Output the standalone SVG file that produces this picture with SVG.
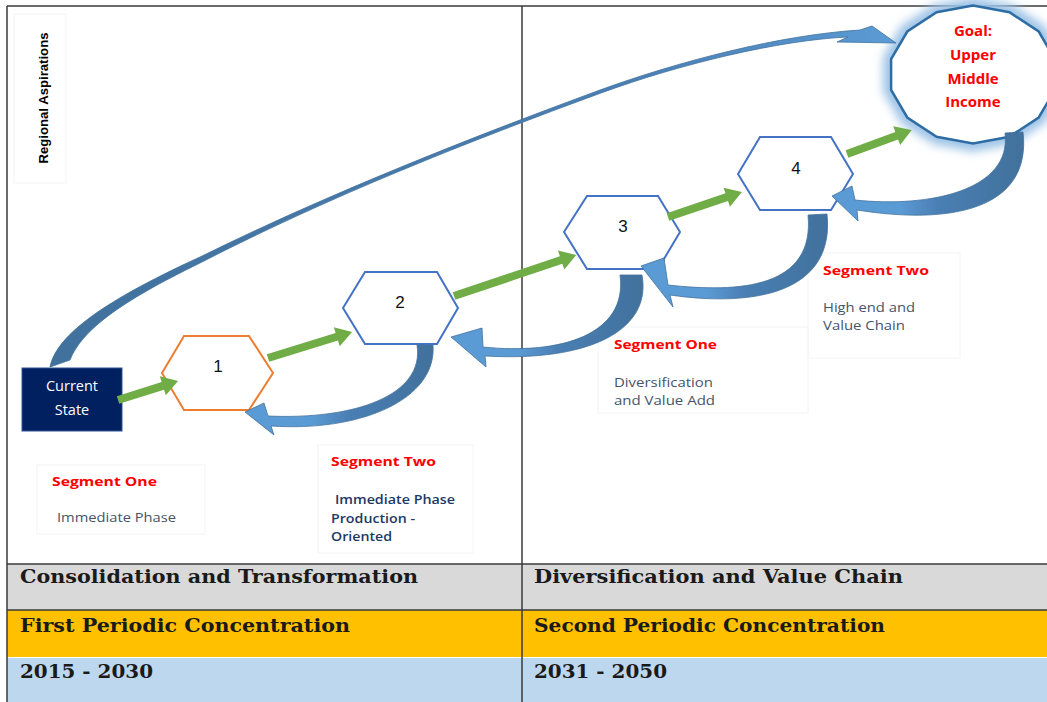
<svg xmlns="http://www.w3.org/2000/svg" width="1047" height="702" viewBox="0 0 1047 702">
<defs>
<style>
.frame{fill:none;stroke:#3a3a3a;stroke-width:1.5}
.hex{fill:#fff;stroke:#4472c4;stroke-width:2}
.num{font-family:"Liberation Sans",Arial,sans-serif;font-size:17px;fill:#111;text-anchor:middle}
.seg{font-family:"Open Sans","Liberation Sans",sans-serif;font-weight:bold;font-size:13px;fill:#ff0000}
.desc{font-family:"Open Sans","Liberation Sans",sans-serif;font-size:12px;fill:#44546a}
.desc2{font-family:"Open Sans","Liberation Sans",sans-serif;font-size:12px;font-weight:600;fill:#203864}
.goal{font-family:"Open Sans","Liberation Sans",sans-serif;font-weight:bold;font-size:15px;fill:#ff0000;text-anchor:middle}
.tbl{font-family:"DejaVu Serif","Liberation Serif",serif;font-weight:bold;font-size:18px;fill:#1a1a1a}
.green{fill:#70ad47}
.curve{fill:url(#cg);stroke:#41719c;stroke-width:0.8}
.fbox{fill:none;stroke:#f4f4f4;stroke-width:1}
</style>
<linearGradient id="cg" x1="1" y1="0" x2="0" y2="0">
<stop offset="0" stop-color="#41719c"/>
<stop offset="0.45" stop-color="#4a7fb4"/>
<stop offset="0.65" stop-color="#5b9bd5"/>
<stop offset="1" stop-color="#5b9bd5"/>
</linearGradient>
<linearGradient id="ag" x1="0" y1="0" x2="1" y2="0">
<stop offset="0" stop-color="#41719c"/>
<stop offset="0.7" stop-color="#4a80b6"/>
<stop offset="1" stop-color="#5b9bd5"/>
</linearGradient>
<filter id="glow" x="-30%" y="-30%" width="160%" height="160%">
<feGaussianBlur stdDeviation="5"/>
</filter>
</defs>

<rect x="0" y="0" width="1047" height="702" fill="#fff"/>

<g id="table">
<rect x="7" y="564" width="1040" height="46" fill="#d9d9d9"/>
<rect x="7" y="610" width="1040" height="47" fill="#ffc000"/>
<rect x="7" y="658" width="1040" height="44" fill="#bdd7ee"/>
<line x1="7" y1="564" x2="1047" y2="564" class="frame"/>
<line x1="7" y1="610" x2="1047" y2="610" class="frame"/>
<text class="tbl" x="20" y="583" textLength="398" lengthAdjust="spacingAndGlyphs">Consolidation and Transformation</text>
<text class="tbl" x="20" y="632" textLength="330" lengthAdjust="spacingAndGlyphs">First Periodic Concentration</text>
<text class="tbl" x="20" y="678" textLength="133" lengthAdjust="spacingAndGlyphs">2015 - 2030</text>
<text class="tbl" x="534" y="583" textLength="369" lengthAdjust="spacingAndGlyphs">Diversification and Value Chain</text>
<text class="tbl" x="534" y="632" textLength="351" lengthAdjust="spacingAndGlyphs">Second Periodic Concentration</text>
<text class="tbl" x="534" y="678" textLength="133" lengthAdjust="spacingAndGlyphs">2031 - 2050</text>
</g>

<g id="frame">
<line x1="7" y1="6" x2="1047" y2="6" class="frame"/>
<line x1="7" y1="6" x2="7" y2="702" class="frame"/>
<line x1="522" y1="6" x2="522" y2="702" class="frame"/>
</g>

<g id="labels">
<rect class="fbox" x="14" y="14" width="52" height="169"/>
<text transform="translate(48,98) rotate(-90)" text-anchor="middle" font-family="'Liberation Sans',Arial,sans-serif" font-weight="bold" font-size="12" fill="#000" textLength="131" lengthAdjust="spacingAndGlyphs">Regional Aspirations</text>

<rect class="fbox" x="37" y="465" width="168" height="69"/>
<text class="seg" x="52" y="486" textLength="105" lengthAdjust="spacingAndGlyphs">Segment One</text>
<text class="desc" x="57" y="522" textLength="119" lengthAdjust="spacingAndGlyphs">Immediate Phase</text>

<rect class="fbox" x="318" y="445" width="155" height="108"/>
<text class="seg" x="331" y="466" textLength="105" lengthAdjust="spacingAndGlyphs">Segment Two</text>
<text class="desc2" x="335" y="504" textLength="120" lengthAdjust="spacingAndGlyphs">Immediate Phase</text>
<text class="desc2" x="331" y="523" textLength="84" lengthAdjust="spacingAndGlyphs">Production -</text>
<text class="desc2" x="331" y="541" textLength="61" lengthAdjust="spacingAndGlyphs">Oriented</text>

<rect class="fbox" x="598" y="327" width="210" height="86"/>
<text class="seg" x="614" y="349" textLength="103" lengthAdjust="spacingAndGlyphs">Segment One</text>
<text class="desc" x="614" y="387" textLength="99" lengthAdjust="spacingAndGlyphs">Diversification</text>
<text class="desc" x="614" y="405" textLength="101" lengthAdjust="spacingAndGlyphs">and Value Add</text>

<rect class="fbox" x="808" y="253" width="152" height="105"/>
<text class="seg" x="823" y="275" textLength="106" lengthAdjust="spacingAndGlyphs">Segment Two</text>
<text class="desc" x="823" y="312" textLength="92" lengthAdjust="spacingAndGlyphs">High end and</text>
<text class="desc" x="823" y="330" textLength="82" lengthAdjust="spacingAndGlyphs">Value Chain</text>
</g>

<g id="current">
<rect x="22" y="368" width="100" height="63" fill="#002060" stroke="#2f5597" stroke-width="1"/>
<text x="72" y="391" text-anchor="middle" font-family="'Open Sans','Liberation Sans',sans-serif" font-size="14.5" fill="#fff">Current</text>
<text x="72" y="415" text-anchor="middle" font-family="'Open Sans','Liberation Sans',sans-serif" font-size="14.5" fill="#fff">State</text>
</g>

<g id="node1">
<polygon points="162,373 184,336 249,336 273,373 249,410 184,410" fill="#fff" stroke="#ed7d31" stroke-width="2"/>
<text class="num" x="218" y="372">1</text>
</g>
<g id="node2">
<polygon class="hex" points="343,308 365,272 437,272 458,308 437,344 365,344"/>
<text class="num" x="400" y="308">2</text>
</g>
<g id="node3">
<polygon class="hex" points="564,232 587,196 658,196 680,232 658,269 587,269"/>
<text class="num" x="623" y="232">3</text>
</g>
<g id="node4">
<polygon class="hex" points="738,174 760,137 831,137 853,174 831,210 760,210"/>
<text class="num" x="796" y="174">4</text>
</g>

<g id="goal">
<polygon points="973,5.5 936.6,12.3 907.3,31.5 891.1,59.2 891.1,89.9 907.3,117.5 936.6,136.7 973,143.5 1009.5,136.7 1038.7,117.5 1054.9,89.9 1054.9,59.2 1038.7,31.5 1009.5,12.3" fill="none" stroke="#9dc3e6" stroke-width="16" filter="url(#glow)"/>
<polygon points="973,5.5 936.6,12.3 907.3,31.5 891.1,59.2 891.1,89.9 907.3,117.5 936.6,136.7 973,143.5 1009.5,136.7 1038.7,117.5 1054.9,89.9 1054.9,59.2 1038.7,31.5 1009.5,12.3" fill="#fff" stroke="#2e6da4" stroke-width="2.5"/>
<text class="goal" x="973" y="36">Goal:</text>
<text class="goal" x="973" y="60">Upper</text>
<text class="goal" x="973" y="84">Middle</text>
<text class="goal" x="973" y="107">Income</text>
</g>

<g id="connectors">
<path class="curve" style="fill:url(#ag)" d="M50,367 C56,338 95,305 200,257 C330,193 470,138 600,90 C680,61 780,35 860,30 L872,26 L896,43 L837,42 L848,37 C780,40 680,64 601,93 C470,141 330,196 200,263 C120,302 82,330 70,360 Z"/>

<path class="curve" d="M433,345 C437,400 360,432 271,426 L274,435 L245,412 L264,403 L268,416 C355,420 425,395 417,345 Z"/>
<path class="curve" d="M642,275 C652,330 590,362 485,356 L486,367 L451,337 L482,328 L483,347 C560,355 628,335 620,275 Z"/>
<path class="curve" d="M827,214 C835,290 760,308 670,295 L673,307 L641,266 L664,258 L668,285 C740,293 815,288 808,215 Z"/>
<path class="curve" d="M1023,132 C1032,210 950,225 857,210 L858,221 L832,196 L852,186 L855,200 C930,208 1012,190 1005,133 Z"/>

<polygon class="green" transform="translate(118,400) rotate(-17.57)" points="0,-4 47,-4 47,-10 63,0 47,10 47,4 0,4"/>
<polygon class="green" transform="translate(268,358) rotate(-17.2)" points="0,-4 72,-4 72,-10 88,0 72,10 72,4 0,4"/>
<polygon class="green" transform="translate(454,296) rotate(-18.57)" points="0,-4 113,-4 113,-10 129,0 113,10 113,4 0,4"/>
<polygon class="green" transform="translate(668,217) rotate(-18.67)" points="0,-4 62,-4 62,-10 78,0 62,10 62,4 0,4"/>
<polygon class="green" transform="translate(847,154) rotate(-20.27)" points="0,-4 53,-4 53,-10 69,0 53,10 53,4 0,4"/>
</g>
</svg>
